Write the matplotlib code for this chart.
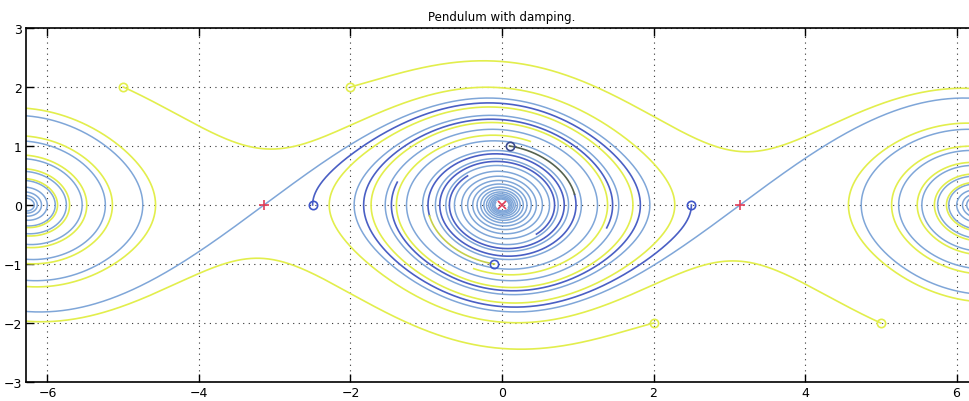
import numpy as np
import matplotlib.pyplot as plt

# pendulum  theta'' = -sin(theta) - b*theta'
damping = 0.1

# trajectories started from the circles
start_theta = [-5.0, -2.0, 2.0, 5.0, -2.5, 2.5, 0.1, -0.1]
start_omega = [2.0, 2.0, -2.0, -2.0, 0.0, 0.0, 1.0, -1.0]
run_time = [16, 40, 40, 16, 8.8, 8.8, 9.0, 9.0]
head_time = [0, 0, 0, 0, 0, 0, 1.3, 1.3]      # first part drawn in head colour
head_col = ['#e2ee4c'] * 6 + ['#56624e', '#c6d04a']
line_col = ['#e2ee4c', '#e2ee4c', '#e2ee4c', '#e2ee4c',
            '#4a5fc4', '#4a5fc4', '#4a5fc4', '#4a5fc4']
mark_col = ['#e2ee4c', '#e2ee4c', '#e2ee4c', '#e2ee4c',
            '#3f56c8', '#3f56c8', '#3a4a90', '#3f56c8']

# saddles (+) and centre (x)
saddle_theta = [-np.pi, np.pi]
centre_theta = [0.0]
manifold_time = 70
manifold_col = '#7fa6d8'

dt = 0.01


def rhs(s):
    return np.array([s[1], -np.sin(s[0]) - damping * s[1]])


def integrate(th, om, T):
    n = int(round(T / dt))
    out = np.empty((n + 1, 2))
    s = np.array([th, om], dtype=float)
    out[0] = s
    for i in range(n):
        k1 = rhs(s)
        k2 = rhs(s + 0.5 * dt * k1)
        k3 = rhs(s + 0.5 * dt * k2)
        k4 = rhs(s + dt * k3)
        s = s + dt / 6.0 * (k1 + 2 * k2 + 2 * k3 + k4)
        out[i + 1] = s
    return out


fig = plt.figure(figsize=(9.70, 4.02), dpi=100)
ax = fig.add_axes([26 / 970, 1 - 383 / 402, 952 / 970, 354 / 402])

# unstable manifolds of the saddles
lam = (-damping + np.sqrt(damping ** 2 + 4)) / 2
eps = 1e-3
for sx in saddle_theta:
    for sgn in (1, -1):
        tr = integrate(sx + sgn * eps, sgn * eps * lam, manifold_time)
        ax.plot(tr[:, 0], tr[:, 1], color=manifold_col, lw=1.1)

for i in range(len(start_theta)):
    tr = integrate(start_theta[i], start_omega[i], run_time[i])
    k = int(round(head_time[i] / dt))
    ax.plot(tr[k:, 0], tr[k:, 1], color=line_col[i], lw=1.2)
    if k > 0:
        ax.plot(tr[:k + 1, 0], tr[:k + 1, 1], color=head_col[i], lw=1.2)
    ax.plot(start_theta[i], start_omega[i], 'o', mfc='none', mec=mark_col[i],
            ms=6, mew=1.2)

ax.plot(saddle_theta, np.zeros(len(saddle_theta)), '+', color='#e0405a', ms=7, mew=1.2)
ax.plot(centre_theta, np.zeros(len(centre_theta)), 'x', color='#e0405a', ms=6, mew=1.2)

ax.set_xlim(-2 * np.pi, 2 * np.pi)
ax.set_ylim(-3, 3)
ax.set_xticks([-6, -4, -2, 0, 2, 4, 6])
ax.set_yticks([-3, -2, -1, 0, 1, 2, 3])
ax.set_xticklabels(['\u22126', '\u22124', '\u22122', '0', '2', '4', '6'])
ax.set_yticklabels(['\u22123', '\u22122', '\u22121', '0', '1', '2', '3'])
ax.tick_params(direction='in', top=True, right=True, length=6, width=1,
               labelsize=9, pad=3)
ax.grid(True, linestyle=(0, (1, 4)), color='#333333', lw=0.8)
for sp in ax.spines.values():
    sp.set_linewidth(1.2)
ax.set_title('Pendulum with damping.', fontsize=8.5, pad=6)

fig.savefig('out.png', dpi=100)
